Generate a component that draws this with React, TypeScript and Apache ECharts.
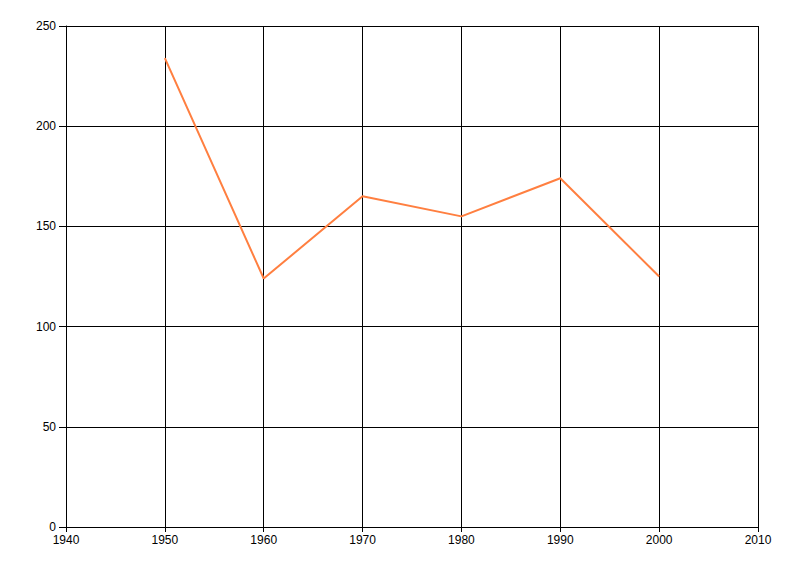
import React, { useEffect, useRef } from "react";
import * as echarts from "echarts";

const years = [1950, 1960, 1970, 1980, 1990, 2000];
const values = [234, 124, 165, 155, 174, 125];

export default function App() {
  const ref = useRef<HTMLDivElement>(null);
  useEffect(() => {
    document.body.style.margin = "0";
    const chart = echarts.init(ref.current!, null, { renderer: "svg" });
    chart.setOption({
      animation: false,
      backgroundColor: "#ffffff",
      grid: { left: 66, top: 26, right: 42, bottom: 49, containLabel: false },
      xAxis: {
        type: "value",
        min: 1940,
        max: 2010,
        interval: 10,
        axisLine: { show: true, onZero: false, lineStyle: { color: "#000", width: 1 } },
        axisTick: { show: true, length: 5, lineStyle: { color: "#000" } },
        axisLabel: {
          color: "#000",
          fontSize: 12,
          fontFamily: "Liberation Sans, Arial, sans-serif",
          margin: 7,
          formatter: (v: number) => String(v),
        },
        splitLine: { show: true, lineStyle: { color: "#000", width: 1 } },
      },
      yAxis: {
        type: "value",
        min: 0,
        max: 250,
        interval: 50,
        axisLine: { show: true, lineStyle: { color: "#000", width: 1 } },
        axisTick: { show: true, length: 7, lineStyle: { color: "#000" } },
        axisLabel: { color: "#000", fontSize: 12, fontFamily: "Liberation Sans, Arial, sans-serif", margin: 10 },
        splitLine: { show: true, lineStyle: { color: "#000", width: 1 } },
      },
      series: [
        {
          type: "line",
          data: years.map((y, i) => [y, values[i]]),
          showSymbol: false,
          symbol: "none",
          lineStyle: { color: "#FF7F40", width: 2 },
          itemStyle: { color: "#FF7F40" },
        },
      ],
    });
    return () => chart.dispose();
  }, []);
  return <div ref={ref} style={{ width: 800, height: 576 }} />;
}
